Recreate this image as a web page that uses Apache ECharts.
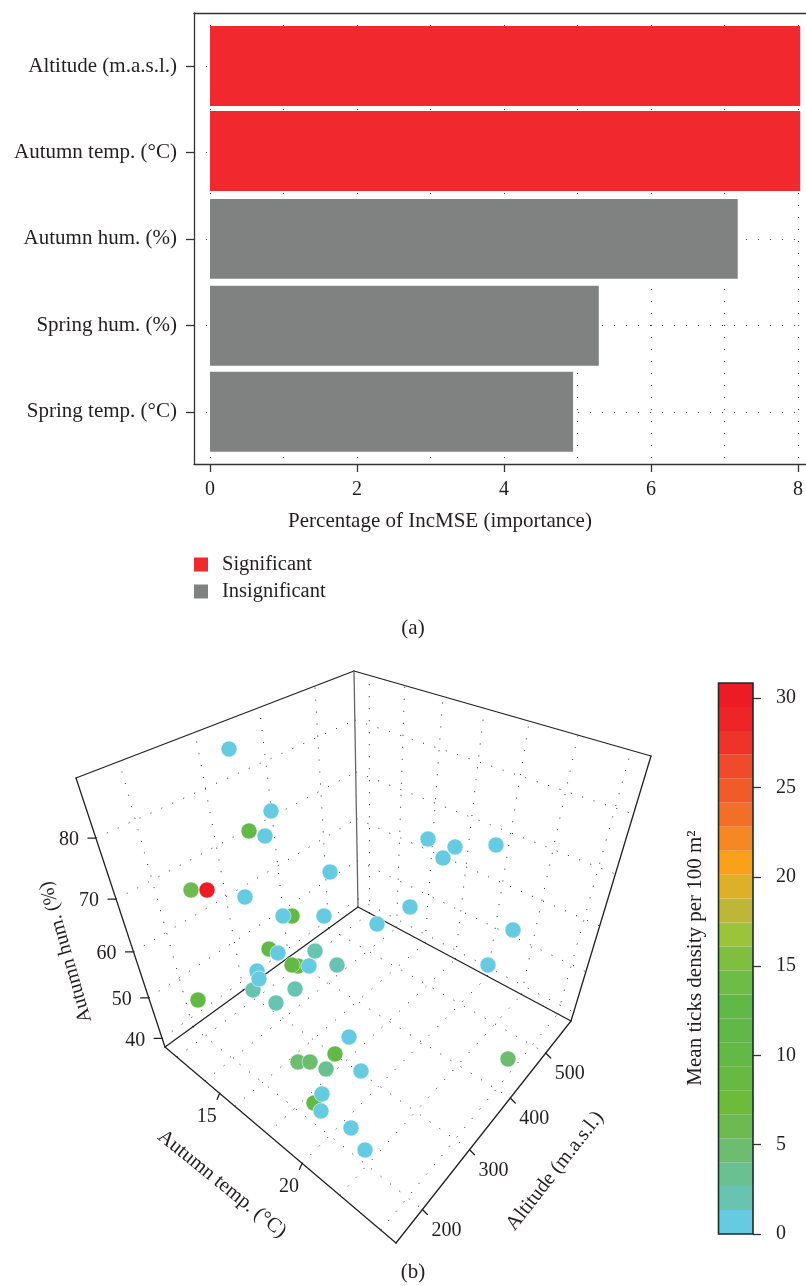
<!DOCTYPE html>
<html><head><meta charset="utf-8">
<style>html,body{margin:0;padding:0;background:#fff}#c{width:806px;height:1286px}</style>
<script src="https://cdn.jsdelivr.net/npm/echarts@6/dist/echarts.min.js"></script>
</head><body><div id="c"></div>
<script>
// ---- panel (a) data
const variables = ['Altitude (m.a.s.l.)','Autumn temp. (°C)','Autumn hum. (%)','Spring hum. (%)','Spring temp. (°C)'];
const incMSE = [8.03,8.03,7.18,5.29,4.94];
const significance = ['Significant','Significant','Insignificant','Insignificant','Insignificant'];
const barRows = [0,0.983,2,3.006,4];
const xTickLabels = [0,2,4,6,8];
const xGridValues = [0,1,2,3,4,5,6,7,8];
// ---- panel (b) data: projected positions (view plane) and density
const viewX = [249,269,292,298,292,314,335,198,191,298,310,508,326,315,337,253,295,276,229,271,265,330,207,245,283,324,278,428,455,443,496,410,377,513,488,257,259,309,349,361,322,321,351,365];
const viewY = [831,949,916,966,965,1103,1054,1000,890,1062,1062,1059,1069,951,965,990,989,1003,749,811,836,872,890,897,916,916,953,839,847,858,845,907,924,930,965,971,979,966,1037,1071,1094,1111,1128,1150];
const density = [10,10,10,10,10,10,10,10,6,5,5,5,3,2,2,2,2,2,0,0,0,0,30,0,0,0,0,0,0,0,0,0,0,0,0,0,0,0,0,0,0,0,0,0];
const tempGrid = [12,14,16,18,20,22,24];
const tempTicks = [15,20];
const altTicks = [200,300,400,500];
const humTicks = [40,50,60,70,80];
const tempRange = [11.1,24.7];
const altRange = [150,580];
const humRange = [37.7,88.5];
const colorTicks = [0,5,10,15,20,25,30];
const colorBands = ['#66cbe0','#68c4b0','#69c091','#6cbd70','#6dbb50','#6dbb3a','#66ba42','#62b945','#5fb847','#60b846','#6dbc45','#7fbf40','#9cc43a','#bdb636','#ddb028','#f9a11b','#f68824','#f36f27','#f15a29','#ef4a29','#ee3429','#ee2527','#ed1c24'];
const colorMax = 30.85;

const FONT = 'Liberation Serif', TXT = '#231f20', LINE = '#333';
const TITLE = 21, DIGIT = 20;
const bandStep = colorMax / colorBands.length;
const bandColor = v => colorBands[Math.min(colorBands.length-1, Math.floor(v / bandStep))];

// box corners in the view plane
const L=[165,1047], F=[396,1243], R=[571,1021], B=[358,907], TL=[76,778], TB=[354,671], TR=[651,756];
function homography(p0,p1,p2,p3){
  const dx1=p1[0]-p2[0],dx2=p3[0]-p2[0],sx=p0[0]-p1[0]+p2[0]-p3[0];
  const dy1=p1[1]-p2[1],dy2=p3[1]-p2[1],sy=p0[1]-p1[1]+p2[1]-p3[1];
  const den=dx1*dy2-dx2*dy1, g=(sx*dy2-dx2*sy)/den, h=(dx1*sy-sx*dy1)/den;
  const a=p1[0]-p0[0]+g*p1[0], b=p3[0]-p0[0]+h*p3[0], c=p0[0];
  const d=p1[1]-p0[1]+g*p1[1], e=p3[1]-p0[1]+h*p3[1], f=p0[1];
  return (u,v)=>{const w=g*u+h*v+1;return [(a*u+b*v+c)/w,(d*u+e*v+f)/w];};
}
const frac=(v,r)=>(v-r[0])/(r[1]-r[0]);
const floorH=homography(L,F,R,B), leftH=homography(L,B,TB,TL), backH=homography(B,R,TR,TB);

const lineSeries=(pts,style)=>({type:'line',xAxisIndex:2,yAxisIndex:1,data:pts,symbol:'none',silent:true,animation:false,z:style.z||2,
  lineStyle:{color:style.color,width:style.width,type:style.type||'solid',cap:style.cap||'butt'},emphasis:{disabled:true}});
const dotted={color:'#222',width:1,type:[1,11]}, edge={color:'#222',width:1.3,cap:'round'};
const frame3d=[];
tempGrid.forEach(t=>{const u=frac(t,tempRange);
  frame3d.push(lineSeries([floorH(u,0),floorH(u,1)],dotted));
  frame3d.push(lineSeries([backH(u,0),backH(u,1)],dotted));});
altTicks.forEach(a=>{const u=frac(a,altRange);
  frame3d.push(lineSeries([floorH(0,u),floorH(1,u)],dotted));
  frame3d.push(lineSeries([leftH(u,0),leftH(u,1)],dotted));});
humTicks.forEach(h=>{const v=frac(h,humRange);
  frame3d.push(lineSeries([leftH(0,v),leftH(1,v)],dotted));
  frame3d.push(lineSeries([backH(0,v),backH(1,v)],dotted));});
[[L,F],[F,R],[L,B],[B,R],[L,TL],[R,TR],[TL,TB],[TB,TR]].forEach(s=>frame3d.push(lineSeries(s,edge)));
frame3d.push(lineSeries([B,TB],{color:'#666',width:1.3}));

const graphics=[];
const txt=(s,x,y,size,deg)=>graphics.push({type:'text',x,y,rotation:(deg||0)*Math.PI/180,z:50,silent:true,
  style:{text:s,fill:TXT,font:size+'px "'+FONT+'"',textAlign:'center',textVerticalAlign:'middle'}});
humTicks.forEach(h=>{const p=leftH(0,frac(h,humRange));
  frame3d.push(lineSeries([p,[p[0]-8,p[1]]],edge)); txt(String(h),p[0]-27,p[1]+2,DIGIT);});
tempTicks.forEach(t=>{const p=floorH(frac(t,tempRange),0);
  frame3d.push(lineSeries([p,[p[0]-2.5,p[1]+6]],edge)); txt(String(t),p[0]-13,p[1]+23,DIGIT);});
altTicks.forEach(a=>{const p=floorH(1,frac(a,altRange));
  frame3d.push(lineSeries([p,[p[0]+5,p[1]+5]],edge)); txt(String(a),p[0]+24,p[1]+21,DIGIT);});
txt('Autumn hum. (%)',66,952,20,106);
txt('Autumn temp. (°C)',222,1184,20.5,-39);
txt('Altitude (m.a.s.l.)',555,1171,20.5,52);
txt('Mean ticks density per 100 m²',695,958,TITLE,90);
txt('Percentage of IncMSE (importance)',440,521,TITLE);
txt('(a)',413,628,21);
txt('(b)',413,1272,21);
graphics.push({type:'rect',z:60,silent:true,shape:{x:718.5,y:683,width:34.5,height:551},style:{fill:'none',stroke:'#1d2b2b',lineWidth:1.6}});

const barData=name=>variables.map((v,i)=>significance[i]===name?[incMSE[i],barRows[i]]:null).filter(Boolean);
const renderBar=(params,api)=>{
  const y=api.value(1), start=api.coord([0,y]), end=api.coord([api.value(0),y]), h=api.size([0,0.925])[1];
  return {type:'rect',shape:{x:start[0],y:start[1]-h/2,width:end[0]-start[0],height:h},style:{fill:api.visual('color')}};
};
const xMin=-0.218,xMax=8.109;
const spine={show:true,onZero:false,lineStyle:{color:LINE,width:1.3}};
const option={
  animation:false,
  textStyle:{fontFamily:FONT,color:TXT},
  legend:{orient:'vertical',left:189,top:549,itemWidth:14,itemHeight:14,itemGap:6,icon:'rect',selectedMode:false,
    data:['Significant','Insignificant'],textStyle:{fontFamily:FONT,fontSize:20.5,color:TXT,padding:[0,0,0,9],lineHeight:16}},
  grid:[
    {left:194,top:13,right:0,height:451,show:false},
    {left:0,top:0,width:806,height:1286,show:false},
    {left:718.5,top:683,width:34.5,height:551,show:false}
  ],
  xAxis:[
    {type:'value',gridIndex:0,min:xMin,max:xMax,position:'bottom',
      axisLine:spine,
      axisTick:{show:true,length:8,customValues:xTickLabels,lineStyle:{color:LINE,width:1.3}},
      axisLabel:{customValues:xTickLabels,fontFamily:FONT,fontSize:DIGIT,color:TXT,margin:16},
      splitLine:{show:false}},
    {type:'value',gridIndex:0,min:xMin,max:xMax,position:'top',
      axisLine:spine,axisLabel:{show:false},
      axisTick:{show:false,customValues:xGridValues},
      splitLine:{show:true,lineStyle:{color:'#444',width:1,type:[1,11]}}},
    {type:'value',gridIndex:1,min:0,max:806,show:false},
    {type:'category',gridIndex:2,data:['density'],show:false}
  ],
  yAxis:[
    {type:'value',gridIndex:0,inverse:true,min:-0.613,max:4.604,
      axisLine:spine,
      axisTick:{show:true,length:8,customValues:[0,1,2,3,4],lineStyle:{color:LINE,width:1.3}},
      axisLabel:{customValues:[0,1,2,3,4],margin:17,fontFamily:FONT,fontSize:TITLE,color:TXT,formatter:v=>variables[v]},
      splitLine:{show:true,lineStyle:{color:'#444',width:1,type:[1,11]}}},
    {type:'value',gridIndex:1,min:0,max:1286,inverse:true,show:false},
    {type:'value',gridIndex:2,min:0,max:colorMax,position:'right',
      axisLine:{show:false},
      axisTick:{show:true,length:8,customValues:colorTicks,lineStyle:{color:LINE,width:1.3}},
      axisLabel:{customValues:colorTicks,margin:23,fontFamily:FONT,fontSize:DIGIT,color:TXT},
      splitLine:{show:false}}
  ],
  series:[
    {name:'Significant',type:'custom',xAxisIndex:0,yAxisIndex:0,renderItem:renderBar,encode:{x:0,y:1},data:barData('Significant'),itemStyle:{color:'#f1282e'},silent:true,clip:true},
    {name:'Insignificant',type:'custom',xAxisIndex:0,yAxisIndex:0,renderItem:renderBar,encode:{x:0,y:1},data:barData('Insignificant'),itemStyle:{color:'#808281'},silent:true,clip:true},
    ...frame3d,
    {name:'sites',type:'scatter',xAxisIndex:2,yAxisIndex:1,z:5,symbolSize:16,silent:true,
      data:viewX.map((x,i)=>[x,viewY[i],density[i]]),
      itemStyle:{color:p=>bandColor(p.value[2]),borderColor:'#fff',borderWidth:0.5,opacity:1}},
    ...colorBands.map(c=>({type:'bar',xAxisIndex:3,yAxisIndex:2,stack:'bar',barWidth:'100%',data:[bandStep],itemStyle:{color:c},silent:true}))
  ],
  graphic:graphics
};
echarts.init(document.getElementById('c'),null,{renderer:'canvas'}).setOption(option);
</script></body></html>
